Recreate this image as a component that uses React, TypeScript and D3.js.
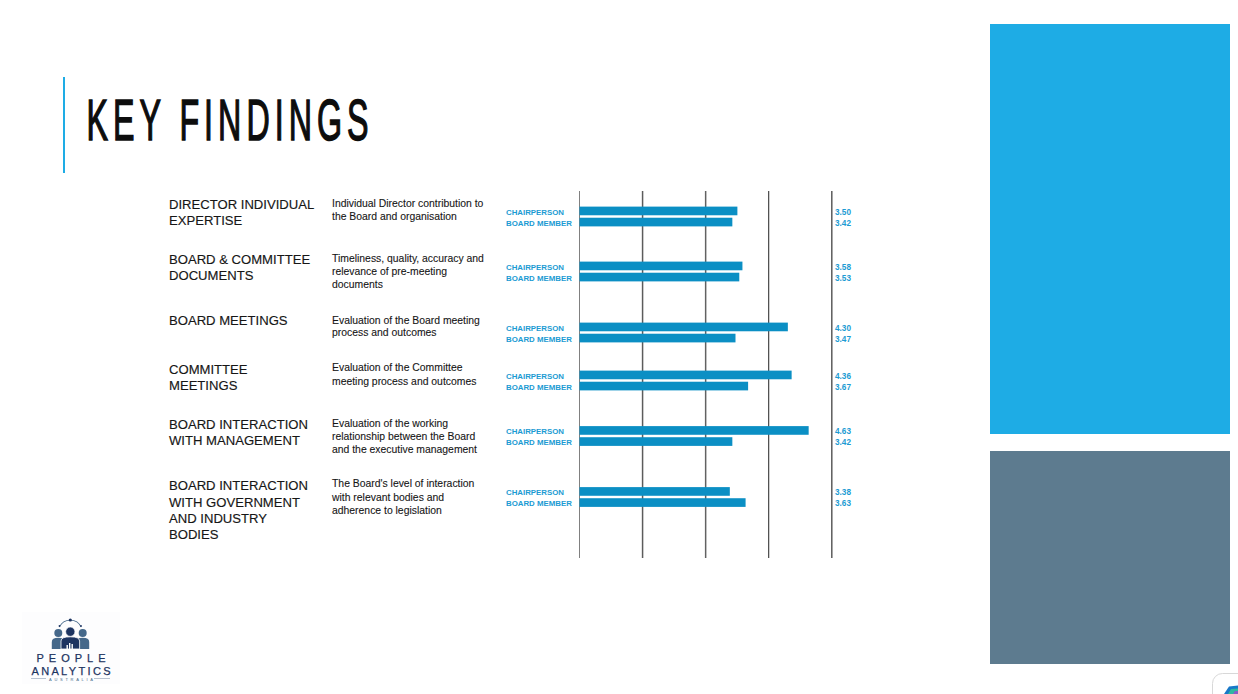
import { useEffect, useRef } from "react";
import * as d3 from "d3";

const WIDTH = 1238;
const HEIGHT = 694;

const categories = [
  ["DIRECTOR INDIVIDUAL", "EXPERTISE"],
  ["BOARD & COMMITTEE", "DOCUMENTS"],
  ["BOARD MEETINGS"],
  ["COMMITTEE", "MEETINGS"],
  ["BOARD INTERACTION", "WITH MANAGEMENT"],
  ["BOARD INTERACTION", "WITH GOVERNMENT", "AND INDUSTRY", "BODIES"],
];
const descriptions = [
  ["Individual Director contribution to", "the Board and organisation"],
  ["Timeliness, quality, accuracy and", "relevance of pre-meeting", "documents"],
  ["Evaluation of the Board meeting", "process and outcomes"],
  ["Evaluation of the Committee", "meeting process and outcomes"],
  ["Evaluation of the working", "relationship between the Board", "and the executive management"],
  ["The Board's level of interaction", "with relevant bodies and", "adherence to legislation"],
];
const chairperson = [3.5, 3.58, 4.3, 4.36, 4.63, 3.38];
const boardMember = [3.42, 3.53, 3.47, 3.67, 3.42, 3.63];
const seriesNames = ["CHAIRPERSON", "BOARD MEMBER"];
const axisTicks = [1, 2, 3, 4, 5];

// rows are not evenly spaced on the slide, they follow the text blocks
const rowCentres = [216.5, 271.5, 332.5, 380.5, 436, 497];
const headingTops = [204, 258.7, 320, 369, 423.7, 485.4];
const descTops = [203, 257.5, 319.5, 366.8, 423, 483.3];
const descLeading = [12.8, 13.2, 12.8, 14, 12.8, 13.2];

const tickColours = ["#808080", "#5c5c5c", "#626262", "#222222", "#5c5c5c"];
const tickWidths = [1, 1.5, 1.5, 1, 1.5];

const BLUE = "#0b8fc4";
const LABEL = "#1c9bd3";
const SANS = "'Liberation Sans', Arial, sans-serif";

export default function App() {
  const svgRef = useRef<SVGSVGElement>(null);

  useEffect(() => {
    if (!svgRef.current) return;
    const svg = d3.select(svgRef.current);
    svg.selectAll("*").remove();

    svg.append("rect").attr("width", WIDTH).attr("height", HEIGHT).attr("fill", "#fff");

    // slide furniture
    svg.append("rect").attr("x", 990).attr("y", 24).attr("width", 240).attr("height", 410).attr("fill", "#1eace5");
    svg.append("rect").attr("x", 990).attr("y", 451).attr("width", 240).attr("height", 213).attr("fill", "#5d7b8f");
    svg.append("rect").attr("x", 63).attr("y", 77).attr("width", 2).attr("height", 96).attr("fill", "#1eace5");

    // no condensed face installed, squeeze the regular one
    svg
      .append("text")
      .attr("transform", "translate(86.5,140.3) scale(0.56,1)")
      .attr("font-family", SANS)
      .attr("font-size", 57.5)
      .attr("letter-spacing", 9)
      .attr("fill", "#0d0d0d")
      .attr("stroke", "#0d0d0d")
      .attr("stroke-width", 1.5)
      .text("KEY FINDINGS");

    const x = d3.scaleLinear().domain([1, 5]).range([579, 831.3]);
    const rowY = d3.scaleOrdinal<number, number>().domain(d3.range(6)).range(rowCentres);
    const barY = d3.scaleBand<number>().domain([0, 1]).range([-11, 11]).paddingInner(0.22).paddingOuter(0.1);

    const axis = svg
      .append("g")
      .attr("transform", "translate(0,191)")
      .call(d3.axisBottom(x).tickValues(axisTicks).tickSize(367).tickFormat(() => ""));
    axis.select(".domain").remove();
    axis
      .selectAll("line")
      .attr("stroke", (_, i) => tickColours[i])
      .attr("stroke-width", (_, i) => tickWidths[i]);

    categories.forEach((lines, i) => {
      const head = svg
        .append("text")
        .attr("font-family", SANS)
        .attr("font-size", 13.1)
        .attr("fill", "#161616")
        .attr("stroke", "#161616")
        .attr("stroke-width", 0.15);
      lines.forEach((l, k) => {
        head.append("tspan").attr("x", 169).attr("y", headingTops[i] + 5 + k * 16.2).text(l);
      });

      const desc = svg
        .append("text")
        .attr("font-family", SANS)
        .attr("font-size", 10.4)
        .attr("fill", "#161616")
        .attr("stroke", "#161616")
        .attr("stroke-width", 0.1);
      descriptions[i].forEach((l, k) => {
        desc.append("tspan").attr("x", 332).attr("y", descTops[i] + 4 + k * descLeading[i]).text(l);
      });

      const g = svg.append("g").attr("transform", `translate(0,${rowY(i)})`);
      const vals = [chairperson[i], boardMember[i]];
      vals.forEach((v, s) => {
        const cy = (barY(s) ?? 0) + barY.bandwidth() / 2;
        g.append("rect")
          .attr("x", x(1) + 0.5)
          .attr("y", barY(s) ?? 0)
          .attr("width", x(v) - x(1) + 0.2)
          .attr("height", barY.bandwidth())
          .attr("fill", BLUE);
        g.append("text")
          .attr("x", 506)
          .attr("y", cy + 3.8)
          .attr("font-family", SANS)
          .attr("font-size", 7.85)
          .attr("font-weight", 700)
          .attr("fill", LABEL)
          .text(seriesNames[s]);
        g.append("text")
          .attr("x", 835)
          .attr("y", cy + 3.6)
          .attr("font-family", SANS)
          .attr("font-size", 8.2)
          .attr("font-weight", 700)
          .attr("fill", LABEL)
          .text(v.toFixed(2));
      });
    });

    // logo
    const logo = svg.append("g");
    const navy = "#1d3461";
    const slate = "#45688a";
    logo.append("rect").attr("x", 22).attr("y", 612).attr("width", 98).attr("height", 72).attr("fill", "#fdfdfe");
    logo
      .append("path")
      .attr("d", d3.arc()({ innerRadius: 11.6, outerRadius: 12.2, startAngle: -1.15, endAngle: 1.15 } as any) ?? "")
      .attr("transform", "translate(70.3,632)")
      .attr("fill", slate);
    logo.append("circle").attr("cx", 70.3).attr("cy", 620).attr("r", 1.6).attr("fill", navy);
    [59.5, 81].forEach((cx) => {
      logo.append("circle").attr("cx", cx).attr("cy", 626).attr("r", 0.9).attr("fill", navy);
    });
    [58.3, 82.7].forEach((cx) => {
      logo.append("circle").attr("cx", cx).attr("cy", 633).attr("r", 4).attr("fill", slate);
      logo
        .append("path")
        .attr("d", `M${cx - 6.5},649V642Q${cx - 6.5},637.8 ${cx},637.8Q${cx + 6.5},637.8 ${cx + 6.5},642V649Z`)
        .attr("fill", slate);
    });
    logo.append("circle").attr("cx", 70.3).attr("cy", 631.7).attr("r", 4.6).attr("fill", navy).attr("stroke", "#fff").attr("stroke-width", 0.6);
    logo
      .append("path")
      .attr("d", "M61,649V641Q61,636.8 70.3,636.8Q79.6,636.8 79.6,641V649Z")
      .attr("fill", navy)
      .attr("stroke", "#fff")
      .attr("stroke-width", 0.8);
    [[66.5, 645, 1.4, 4], [69, 643, 1.4, 6], [71.5, 644, 1.4, 5]].forEach(([bx, by, bw, bh]) => {
      logo.append("rect").attr("x", bx).attr("y", by).attr("width", bw).attr("height", bh).attr("fill", "#fff");
    });
    const wordmark: [string, number, number, number][] = [
      ["PEOPLE", 36.5, 662, 69],
      ["ANALYTICS", 31.5, 674.5, 79],
    ];
    wordmark.forEach(([t, wx, wy, len]) => {
      logo
        .append("text")
        .attr("x", wx)
        .attr("y", wy)
        .attr("textLength", len)
        .attr("lengthAdjust", "spacing")
        .attr("font-family", SANS)
        .attr("font-size", 11)
        .attr("fill", navy)
        .attr("stroke", navy)
        .attr("stroke-width", 0.25)
        .text(t);
    });
    logo
      .append("text")
      .attr("x", 49)
      .attr("y", 680.5)
      .attr("textLength", 44)
      .attr("lengthAdjust", "spacing")
      .attr("font-family", SANS)
      .attr("font-size", 4)
      .attr("fill", slate)
      .text("AUSTRALIA");
    logo.append("line").attr("x1", 31).attr("x2", 46).attr("y1", 678.5).attr("y2", 678.5).attr("stroke", "#9aa8bd").attr("stroke-width", 0.7);
    logo.append("line").attr("x1", 94).attr("x2", 110).attr("y1", 678.5).attr("y2", 678.5).attr("stroke", "#9aa8bd").attr("stroke-width", 0.7);

    // corner widget
    svg.append("rect").attr("x", 1212.5).attr("y", 673.5).attr("width", 50).attr("height", 50).attr("rx", 10).attr("fill", "#fff").attr("stroke", "#d8d8d8");
    svg.append("path").attr("d", "M1224,694L1229,686.5L1238,685.5V694Z").attr("fill", "#1878c8");
    svg.append("path").attr("d", "M1228,694L1231,689L1238,688.5V694Z").attr("fill", "#2fb8a0");
    svg.append("path").attr("d", "M1233,694L1235,691L1238,691V694Z").attr("fill", "#8a5cc8");
  }, []);

  return (
    <svg
      ref={svgRef}
      width={WIDTH}
      height={HEIGHT}
      viewBox={`0 0 ${WIDTH} ${HEIGHT}`}
      style={{ position: "absolute", left: 0, top: 0 }}
    />
  );
}
